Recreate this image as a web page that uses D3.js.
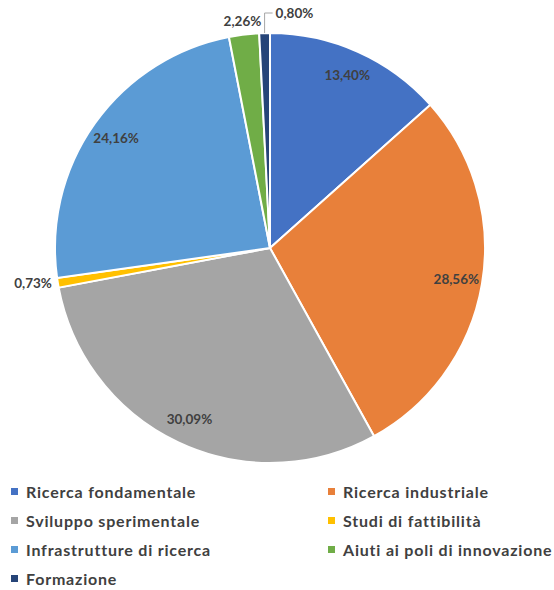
<!DOCTYPE html>
<html><head><meta charset="utf-8">
<script src="https://cdn.jsdelivr.net/npm/d3@7"></script>
<style>body{margin:0;background:#fff}svg{display:block}text{font-family:Lato,"Open Sans",sans-serif;font-weight:bold;fill:#404040}</style>
</head><body><svg id="c" width="554" height="590"></svg>
<script>
const categories=["Ricerca fondamentale","Ricerca industriale","Sviluppo sperimentale","Studi di fattibilità","Infrastrutture di ricerca","Aiuti ai poli di innovazione","Formazione"];
const values=[13.40,28.56,30.09,0.73,24.16,2.26,0.80];
const labels=["13,40%","28,56%","30,09%","0,73%","24,16%","2,26%","0,80%"];
const colors=["#4472C4","#E8803A","#A5A5A5","#FFC000","#5B9BD5","#70AD47","#264478"];

const svg=d3.select("#c");
const cx=270,cy=248,r=215;
const g=svg.append("g").attr("transform",`translate(${cx},${cy})`);
const pie=d3.pie().sort(null).value(d=>d)(values);
const arc=d3.arc().innerRadius(0).outerRadius(r);
g.selectAll("path").data(pie).join("path").attr("d",arc).attr("fill",(d,i)=>colors[i]).attr("stroke","#fff").attr("stroke-width",2);

const inArc=d3.arc().innerRadius(189).outerRadius(189);
const mid=d=>(d.startAngle+d.endAngle)/2;
const fs=13.5;
pie.forEach((d,i)=>{
  const a=mid(d);
  if(values[i]>5){
    const [x,y]=inArc.centroid(d);
    g.append("text").attr("x",x).attr("y",y).attr("dy","0.35em").attr("text-anchor","middle").attr("font-size",fs).text(labels[i]);
  } else if(i===3){
    const R=r+6;
    g.append("text").attr("x",R*Math.sin(a)).attr("y",-R*Math.cos(a)).attr("dy","0.35em").attr("text-anchor","end").attr("font-size",fs).text(labels[i]);
  } else if(i===5){
    const R=r+13;
    g.append("text").attr("x",R*Math.sin(a)).attr("y",-R*Math.cos(a)).attr("dy","0.35em").attr("text-anchor","middle").attr("font-size",fs).text(labels[i]);
  } else {
    const x0=r*Math.sin(a), y0=-r*Math.cos(a);
    const ly=-r-20;
    g.append("polyline").attr("points",`${x0},${y0} ${x0},${ly} ${x0+8},${ly}`).attr("fill","none").attr("stroke","#a6a6a6").attr("stroke-width",1);
    g.append("text").attr("x",x0+11).attr("y",ly).attr("dy","0.35em").attr("text-anchor","start").attr("font-size",fs).text(labels[i]);
  }
});

const leg=svg.append("g");
categories.forEach((c,i)=>{
  const col=i%2, row=Math.floor(i/2);
  const x=col?328:11, y=492+row*29;
  leg.append("rect").attr("x",x).attr("y",y-4).attr("width",7).attr("height",7).attr("fill",colors[i]);
  leg.append("text").attr("x",x+15).attr("y",y).attr("dy","0.35em").attr("font-size",16).attr("letter-spacing","0.8px").text(c);
});
</script></body></html>
